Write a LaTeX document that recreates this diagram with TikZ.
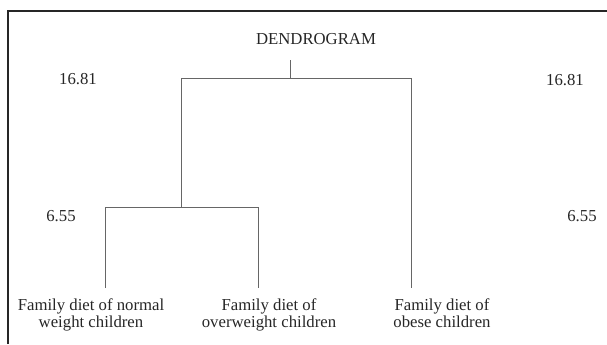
\documentclass[tikz,border=0pt]{standalone}
\usepackage{fontspec}
\setmainfont{Liberation Serif}
\usepackage{tikz}
\usetikzlibrary{positioning}

\begin{document}
\begin{tikzpicture}[x=0.025cm,y=-0.025cm,
    lbl/.style={font=\fontsize{11.9}{12.6}\selectfont,text=black!85,inner sep=0pt},
    leaf/.style={lbl,align=center,anchor=north},
    branch/.style={draw=black!60,line width=0.6pt}]
    \useasboundingbox (0,0) rectangle (607,344);
    % frame
    \draw[line width=0.9pt,black!85] (8,344) -- (8,11) -- (607,11);
    \node[lbl] (title) at (316,39) {DENDROGRAM};
    % scale values
    \node[lbl] (hiL) at (78,79) {16.81};
    \node[lbl] (hiR) at (565,80) {16.81};
    \node[lbl] (loL) at (61,216) {6.55};
    \node[lbl] (loR) at (582,216) {6.55};
    % tree
    \coordinate (root) at (290,60);
    \coordinate (top) at (290,78);
    \coordinate (mid) at (181,207);
    \coordinate (leafA) at (105,288);
    \coordinate (leafB) at (258,288);
    \coordinate (leafC) at (411,288);
    \draw[branch] (root) -- (top);
    \draw[branch] (mid) -- (mid |- top) -- (leafC |- top) -- (leafC);
    \draw[branch] (leafA) -- (leafA |- mid) -- (leafB |- mid) -- (leafB);
    \node[leaf] (dietA) at (91,298) {Family diet of normal\\weight children};
    \node[leaf] (dietB) at (269,298) {Family diet of\\overweight children};
    \node[leaf] (dietC) at (442,298) {Family diet of\\obese children};
\end{tikzpicture}
\end{document}
